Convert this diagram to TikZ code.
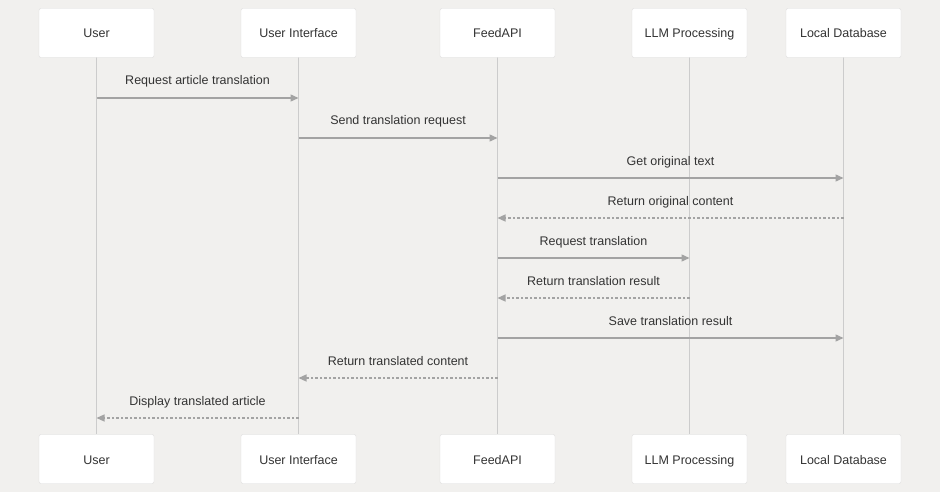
\documentclass[tikz,border=0pt]{standalone}
\usepackage{fontspec}
\setmainfont{Liberation Sans}
\usetikzlibrary{arrows.meta}
\definecolor{bg}{HTML}{F1F0EE}
\definecolor{boxline}{HTML}{DDDDDD}
\definecolor{life}{HTML}{CCCCCC}
\definecolor{msg}{HTML}{A3A3A3}
\definecolor{txt}{HTML}{333333}
\begin{document}
\begin{tikzpicture}[x=1pt,y=-1pt,
  actor/.style={draw=boxline,fill=white,rounded corners=2pt,minimum width=115pt,minimum height=49pt,inner sep=0pt,text height=11pt,text depth=1pt,font=\fontsize{12.5}{14}\selectfont,text=txt},
  lifeline/.style={draw=life,line width=1.2pt},
  callmsg/.style={draw=msg,line width=1.4pt,-{Triangle[length=8pt,width=7pt]}},
  retmsg/.style={draw=msg,line width=1.2pt,dash pattern=on 2.5pt off 2pt,-{Triangle[length=8pt,width=7pt]}},
  lbl/.style={font=\fontsize{12.5}{14}\selectfont,text=txt,inner sep=0pt,anchor=base,yshift=13pt}]
\fill[bg] (0,0) rectangle (940,492);
\useasboundingbox (0,0) rectangle (940,492);
% lifelines
\foreach \x/\n in {96.5/a,298.5/b,497.5/c,689.5/d,843.5/e}{
  \coordinate (\n t) at (\x,57);
  \coordinate (\n b) at (\x,434);
  \draw[lifeline] (\n t) -- (\n b);
}
% actors
\node[actor] (ua) at (96.5,33) {User};
\node[actor] (ub) at (298.5,33) {User Interface};
\node[actor] (uc) at (497.5,33) {FeedAPI};
\node[actor] (ud) at (689.5,33) {LLM Processing};
\node[actor] (ue) at (843.5,33) {Local Database};
\node[actor] (la) at (96.5,459) {User};
\node[actor] (lb) at (298.5,459) {User Interface};
\node[actor] (lc) at (497.5,459) {FeedAPI};
\node[actor] (ld) at (689.5,459) {LLM Processing};
\node[actor] (le) at (843.5,459) {Local Database};
% message anchors
\foreach \y/\i in {98/1,138/2,178/3,218/4,258/5,298/6,338/7,378/8,418/9}{
  \coordinate (a\i) at (96.5,\y);
  \coordinate (b\i) at (298.5,\y);
  \coordinate (c\i) at (497.5,\y);
  \coordinate (d\i) at (689.5,\y);
  \coordinate (e\i) at (843.5,\y);
}
\draw[callmsg] (a1) -- node[lbl] {Request article translation} (b1);
\draw[callmsg] (b2) -- node[lbl] {Send translation request} (c2);
\draw[callmsg] (c3) -- node[lbl] {Get original text} (e3);
\draw[retmsg] (e4) -- node[lbl] {Return original content} (c4);
\draw[callmsg] (c5) -- node[lbl] {Request translation} (d5);
\draw[retmsg] (d6) -- node[lbl] {Return translation result} (c6);
\draw[callmsg] (c7) -- node[lbl] {Save translation result} (e7);
\draw[retmsg] (c8) -- node[lbl] {Return translated content} (b8);
\draw[retmsg] (b9) -- node[lbl] {Display translated article} (a9);
\end{tikzpicture}
\end{document}
